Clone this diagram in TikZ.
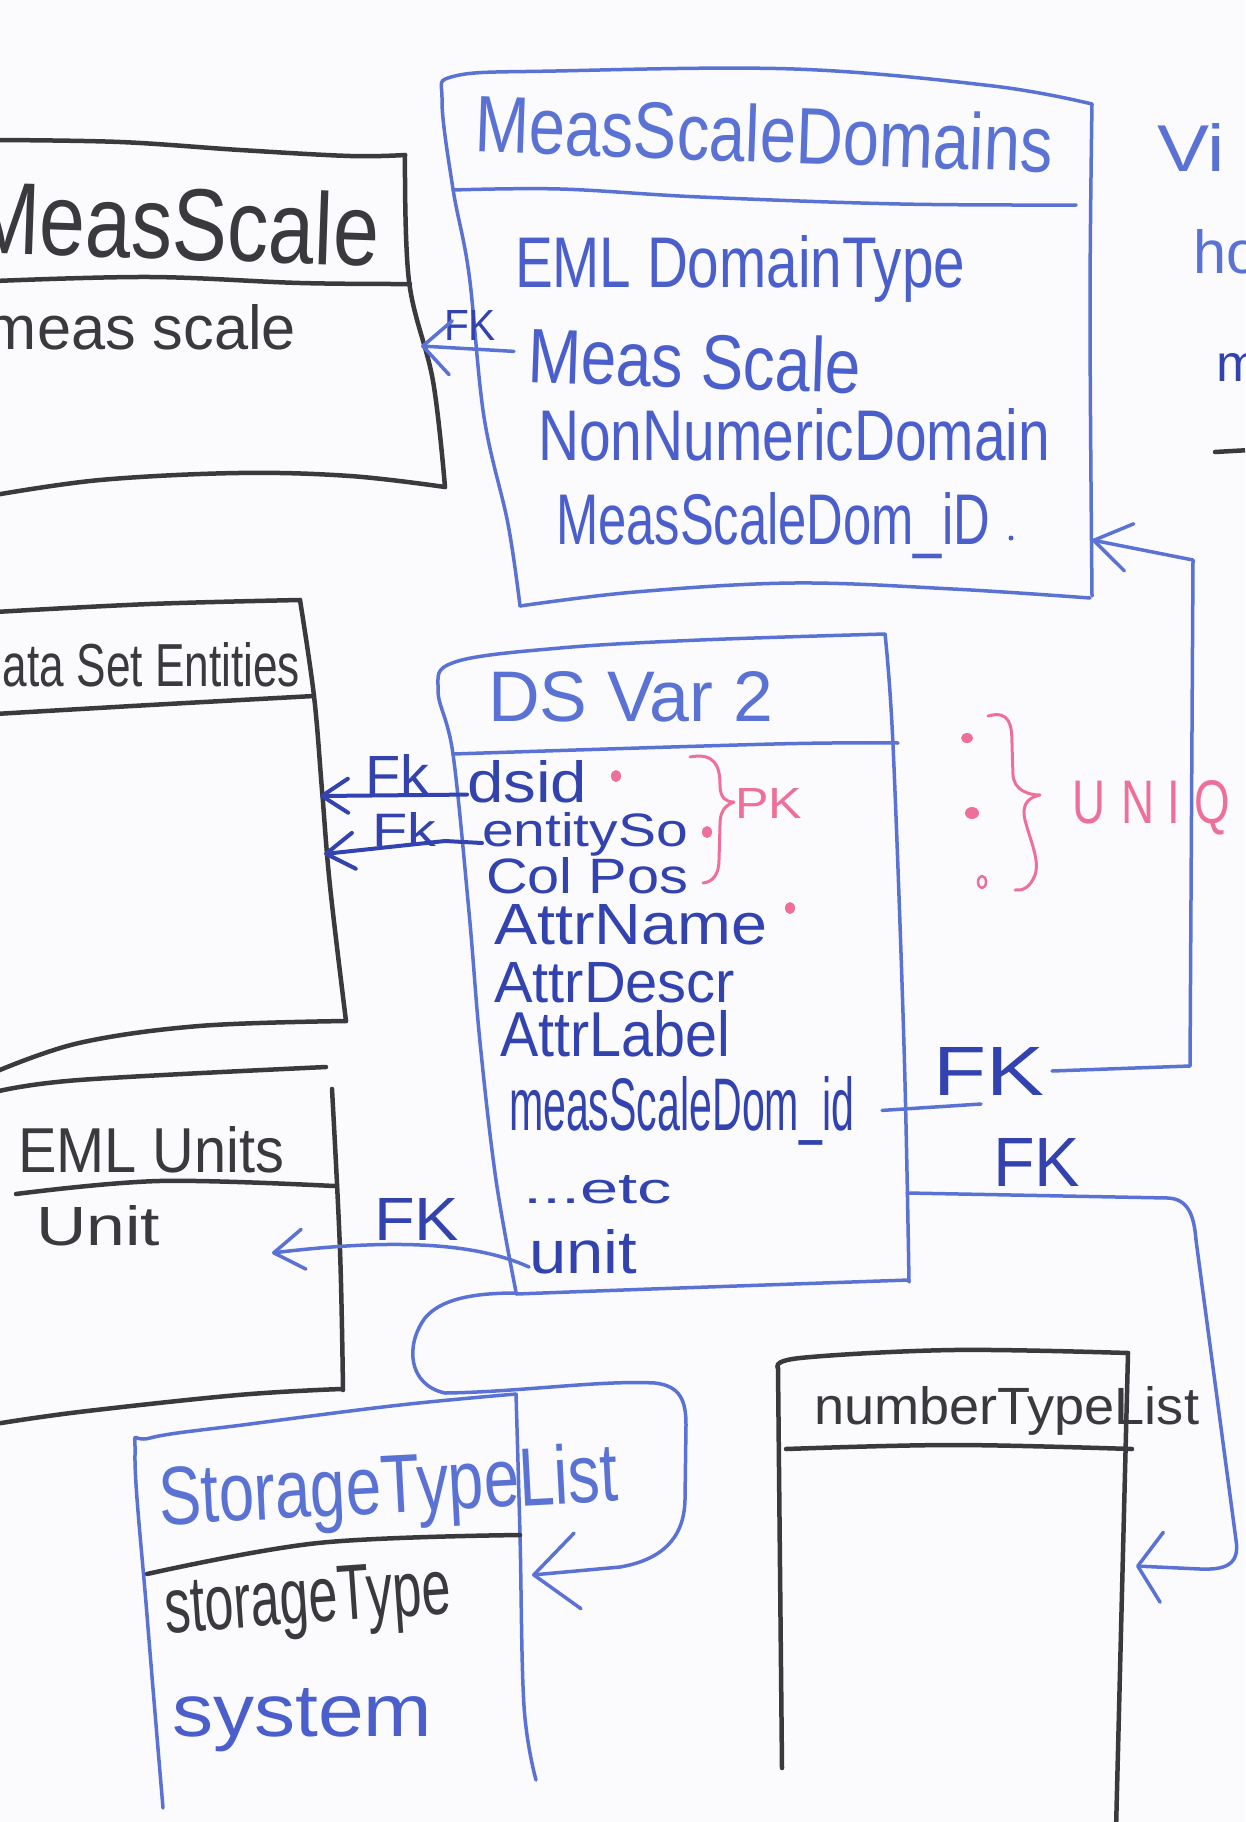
\documentclass[tikz,border=0pt]{standalone}
\usepackage{fontspec}
\setmainfont{Liberation Sans}
\usetikzlibrary{arrows.meta}
\definecolor{inkblk}{HTML}{3A3A3E}
\definecolor{inkblue}{HTML}{5A72D4}
\definecolor{inkmblue}{HTML}{4A5FCB}
\definecolor{inkdblue}{HTML}{3243B0}
\definecolor{inkpink}{HTML}{EE7098}
\definecolor{board}{HTML}{FBFBFD}
\newcommand\hw[3]{\resizebox{#1pt}{#2pt}{#3}}
\begin{document}
\begin{tikzpicture}[x=1pt,y=-1pt,
 txt/.style={anchor=base west,inner sep=0pt,outer sep=0pt},
 blk/.style={draw=inkblk,line width=4.5pt,line cap=round,line join=round},
 blu/.style={draw=inkblue,line width=3.5pt,line cap=round,line join=round},
 dblu/.style={draw=inkdblue,line width=4pt,line cap=round,line join=round},
 pnk/.style={draw=inkpink,line width=3pt,line cap=round,line join=round}]

\useasboundingbox (0,0) rectangle (1245,1822);
\fill[board] (0,0) rectangle (1245,1822);
\clip (0,0) rectangle (1245,1822);

% ---------- MeasScale box (black)
\draw[blk] plot[smooth,tension=0.6] coordinates {(-5,140) (120,142) (240,150) (350,156) (405,155)};
\draw[blk] plot[smooth,tension=0.6] coordinates {(405,155) (409,281) (433,381) (445,487)};
\draw[blk] plot[smooth,tension=0.6] coordinates {(-5,281) (150,277) (300,283) (410,284)};
\draw[blk] plot[smooth,tension=0.6] coordinates {(-5,495) (100,480) (238,473) (350,476) (445,487)};

% ---------- MeasScaleDomains box (blue)
\draw[blu] plot[smooth,tension=0.6] coordinates {(520,606) (508,524) (484,417) (469,274) (453,189) (442,100) (455,76) (556,71) (794,69) (993,86) (1092,104)};
\draw[blu] plot[smooth,tension=0.6] coordinates {(1092,104) (1090,310) (1092,596)};
\draw[blu] plot[smooth,tension=0.6] coordinates {(520,606) (635,592) (794,583) (953,589) (1090,598)};
\draw[blu] plot[smooth,tension=0.6] coordinates {(453,190) (560,189) (700,197) (900,204) (1076,205)};

% ---------- DS Var 2 box (blue)
\draw[blu] plot[smooth,tension=0.6] coordinates {(516,1292) (496,1180) (480,1042) (469,912) (453,754) (438,690) (455,662) (560,648) (700,640) (885,634)};
\draw[blu] plot[smooth,tension=0.6] coordinates {(885,634) (893,745) (904,1046) (909,1282)};
\draw[blu] plot[smooth,tension=0.6] coordinates {(516,1294) (651,1289) (909,1280)};
\draw[blu] plot[smooth,tension=0.6] coordinates {(453,754) (774,744) (898,743)};

% ---------- Data Set Entities box (black)
\draw[blk] plot[smooth,tension=0.6] coordinates {(-5,612) (150,604) (300,600)};
\draw[blk] plot[smooth,tension=0.6] coordinates {(300,600) (314,696) (322,790) (330,886) (346,1021)};
\draw[blk] plot[smooth,tension=0.6] coordinates {(-5,714) (150,705) (314,696)};
\draw[blk] plot[smooth,tension=0.6] coordinates {(-5,1072) (79,1043) (199,1026) (346,1021)};

% ---------- EML Units box (black)
\draw[blk] plot[smooth,tension=0.6] coordinates {(-5,1092) (79,1080) (326,1067)};
\draw[blk] plot[smooth,tension=0.6] coordinates {(332,1089) (340,1250) (343,1390)};
\draw[blk] plot[smooth,tension=0.6] coordinates {(16,1194) (159,1181) (334,1186)};
\draw[blk] plot[smooth,tension=0.6] coordinates {(-5,1424) (79,1412) (238,1395) (341,1389)};

% ---------- StorageTypeList box
\draw[blu] plot[smooth,tension=0.6] coordinates {(163,1808) (147,1615) (135,1455) (150,1438) (250,1424) (400,1405) (516,1394)};
\draw[blu] plot[smooth,tension=0.6] coordinates {(516,1394) (520,1535) (524,1706) (536,1780)};
\draw[blk] plot[smooth,tension=0.6] coordinates {(147,1574) (318,1543) (520,1535)};

% ---------- numberTypeList box (black)
\draw[blk] plot[smooth,tension=0.6] coordinates {(778,1368) (800,1358) (953,1350) (1128,1353)};
\draw[blk] plot[smooth,tension=0.6] coordinates {(778,1368) (782,1768)};
\draw[blk] plot[smooth,tension=0.6] coordinates {(1128,1353) (1116,1830)};
\draw[blk] plot[smooth,tension=0.6] coordinates {(786,1449) (953,1445) (1132,1449)};

% ---------- texts: MeasScale
\node[txt,text=inkblk,rotate=-2] (msT) at (-30,252) {\hw{408}{74}{MeasScale}};
\node[txt,text=inkblk] (msA) at (-14,349) {\hw{310}{45}{meas scale}};

% ---------- texts: MeasScaleDomains
\node[txt,text=inkblue,rotate=-2] (msdT) at (474,152) {\hw{578}{58}{MeasScaleDomains}};
\node[txt,text=inkmblue] (msdA1) at (515,287) {\hw{450}{52}{EML DomainType}};
\node[txt,text=inkmblue,rotate=-2] (msdA2) at (527,382) {\hw{333}{56}{Meas Scale}};
\node[txt,text=inkmblue] (msdA3) at (538,460) {\hw{512}{52}{NonNumericDomain}};
\node[txt,text=inkmblue] (msdA4) at (556,544) {\hw{434}{52}{MeasScaleDom\_iD}};
\fill[inkmblue] (1011,538) circle (2.5);

% ---------- texts: DS Var 2
\node[txt,text=inkblue] (dsT) at (488,721) {\hw{285}{50}{DS Var 2}};
\node[txt,text=inkdblue] (dsid) at (467,802) {\hw{120}{42}{dsid}};
\node[txt,text=inkdblue] (entity) at (482,846) {\hw{206}{34}{entitySo}};
\node[txt,text=inkdblue] (colpos) at (486,893) {\hw{202}{36}{Col Pos}};
\node[txt,text=inkdblue] (attrname) at (494,944) {\hw{273}{40}{AttrName}};
\node[txt,text=inkdblue] (attrdescr) at (494,1002) {\hw{241}{40}{AttrDescr}};
\node[txt,text=inkdblue] (attrlabel) at (500,1056) {\hw{230}{46}{AttrLabel}};
\node[txt,text=inkdblue] (msdid) at (509,1130) {\hw{345}{54}{measScaleDom\_id}};
\node[txt,text=inkdblue] (etc) at (523,1203) {\hw{149}{28}{...etc}};
\node[txt,text=inkdblue] (unit) at (529,1273) {\hw{108}{44}{unit}};

% ---------- other box texts
\node[txt,text=inkblk] (dseT) at (-29,686) {\hw{329}{44}{Data Set Entities}};
\node[txt,text=inkblk] (emlT) at (18,1172) {\hw{266}{46}{EML Units}};
\node[txt,text=inkblk] (emlA) at (36,1245) {\hw{124}{40}{Unit}};
\node[txt,text=inkblue,rotate=3] (stlT) at (160,1525) {\hw{460}{60}{StorageTypeList}};
\node[txt,text=inkblk,rotate=4] (stlA) at (166,1633) {\hw{287}{54}{storageType}};
\node[txt,text=inkmblue] (stlB) at (172,1736) {\hw{260}{48}{system}};
\node[txt,text=inkblk] (ntlT) at (814,1424) {\hw{385}{38}{numberTypeList}};

% ---------- right edge fragments
\node[txt,text=inkblue] (vi) at (1157,172) {\hw{68}{48}{Vi}};
\node[txt,text=inkblue] (ho) at (1193,273) {\hw{66}{44}{ho}};
\node[txt,text=inkdblue] (mm) at (1216,381) {\hw{44}{28}{m}};
\draw[blk] (1215,452) -- (1250,450);

% ---------- FK labels
\node[txt,text=inkdblue] (fkms) at (444,340) {\hw{52}{30}{FK}};
\node[txt,text=inkdblue] (fk1) at (365,794) {\hw{64}{40}{Fk}};
\node[txt,text=inkdblue] (fk2) at (372,846) {\hw{64}{34}{Fk}};
\node[txt,text=inkdblue] (fk3) at (374,1240) {\hw{85}{42}{FK}};
\node[txt,text=inkdblue] (fk4) at (933,1095) {\hw{111}{48}{FK}};
\node[txt,text=inkdblue] (fk5) at (993,1186) {\hw{87}{48}{FK}};

% ---------- pink PK / UNIQ
\node[txt,text=inkpink] (pk) at (735,818) {\hw{67}{30}{PK}};
\node[txt,text=inkpink] (uniq) at (1072,823) {\hw{158}{43}{U\kern0.35em N\kern0.3em I\kern0.3em Q}};
\fill[inkpink] (616,776) ellipse (5 and 6);
\fill[inkpink] (707,832) ellipse (5 and 6);
\fill[inkpink] (790,908) ellipse (5 and 6);
\fill[inkpink] (967,738) ellipse (6 and 5);
\fill[inkpink] (972,813) ellipse (7 and 6);
\draw[pnk,line width=2.5pt] (982,882) ellipse (4 and 6);
\draw[pnk] (690,757) .. controls (716,752) and (720,768) .. (720,785)
  .. controls (720,798) and (726,802) .. (734,802)
  .. controls (724,806) and (720,812) .. (720,825)
  -- (719,860) .. controls (719,874) and (713,882) .. (703,883);
\draw[pnk] (988,716) .. controls (1010,710) and (1012,725) .. (1012,745)
  -- (1013,775) .. controls (1014,790) and (1028,795) .. (1040,795)
  .. controls (1025,798) and (1022,808) .. (1025,820)
  .. controls (1030,840) and (1040,860) .. (1035,875)
  .. controls (1030,888) and (1022,891) .. (1015,890);

% ---------- connectors
\coordinate (msTip) at (421,346);
\draw[blu,-{Straight Barb[length=28pt,width=54pt,round]}] ([xshift=-14pt,yshift=3pt]msdA2.west) -- (msTip);

\coordinate (dseTip1) at (320,796);
\draw[dblu,-{Straight Barb[length=26pt,width=34pt,round]}] ([yshift=8pt]dsid.south west) -- (dseTip1);

\coordinate (entBend) at (445,841);
\coordinate (dseTip2) at (324,854);
\draw[dblu,-{Straight Barb[length=28pt,width=36pt,round]}] ([yshift=3pt]entity.base west) -- (entBend) -- (dseTip2);

\coordinate (emlTip) at (272,1253);
\draw[blu,-{Straight Barb[length=30pt,width=40pt,round]}] ([yshift=6pt]unit.base west) .. controls (470,1240) and (380,1240) .. (emlTip);

\coordinate (k1) at (981,1104);
\coordinate (k2) at (1052,1071);
\coordinate (k3) at (1190,1066);
\coordinate (k4) at (1193,560);
\coordinate (msdTip) at (1092,540);
\draw[blu,-{Straight Barb[length=36pt,width=48pt,round]}] ([xshift=28pt]msdid.east) -- (k1) (k2) -- (k3) -- (k4) -- (msdTip);

\coordinate (dsR) at (907,1193);
\coordinate (ntlTip) at (1136,1566);
\draw[blu,-{Straight Barb[length=24pt,width=70pt,round]}] (dsR) -- (1168,1198)
  .. controls (1188,1199) and (1194,1215) .. (1196,1240) -- (1236,1540)
  .. controls (1240,1565) and (1225,1570) .. (1200,1569) -- (ntlTip);

\coordinate (dsBL) at (516,1293);
\coordinate (stlTip) at (532,1575);
\draw[blu,-{Straight Barb[length=44pt,width=76pt,round]}] (dsBL)
  .. controls (470,1293) and (440,1300) .. (425,1318)
  .. controls (405,1345) and (408,1385) .. (445,1393)
  .. controls (520,1392) and (600,1380) .. (655,1383)
  .. controls (680,1386) and (686,1400) .. (686,1425)
  -- (685,1500) .. controls (684,1540) and (660,1560) .. (620,1567) -- (stlTip);
\end{tikzpicture}
\end{document}
